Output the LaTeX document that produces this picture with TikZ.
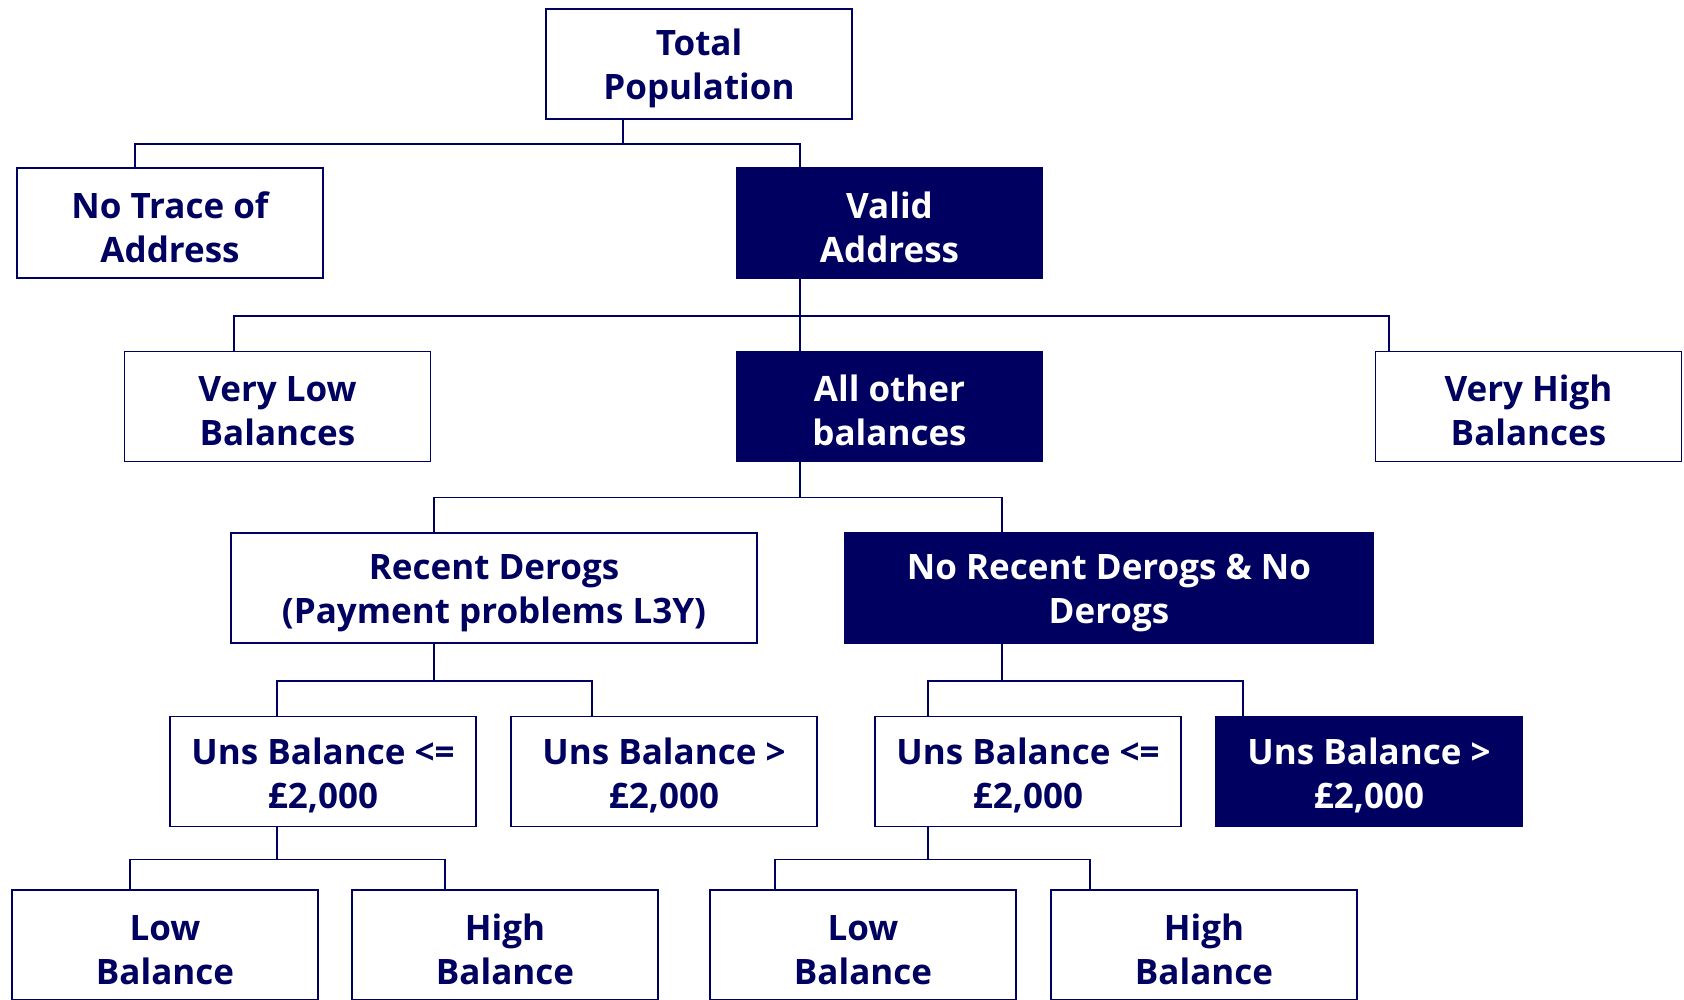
\documentclass[tikz,border=0pt]{standalone}
\usepackage{fontspec}
\setmainfont{Open Sans}
\usepackage{tikz}
\usetikzlibrary{positioning,calc}
\definecolor{navy}{HTML}{000060}

\begin{document}
\begin{tikzpicture}[
    x=1pt, y=-1pt,
    boxStyle/.style={rectangle, draw=navy, line width=1.8pt, fill=white, text=navy,
        minimum width=306pt, minimum height=110pt, align=center,
        font=\fontsize{35}{44}\selectfont\bfseries,
        execute at begin node={\rule{0pt}{79pt}}},
    darkBoxStyle/.style={boxStyle, fill=navy, text=white},
    linkStyle/.style={draw=navy, line width=1.8pt}
]
    \useasboundingbox (0,0) rectangle (1684,999);

    % Root
    \node[boxStyle] (total) at (699, 64) {Total\\Population};

    % Address check
    \node[boxStyle] (notrace) at (170, 223) {No Trace of\\Address};
    \node[darkBoxStyle] (valid) at (889.5, 223) {Valid\\Address};

    % Balance bands
    \node[boxStyle] (verylow) at (277.5, 406.5) {Very Low\\Balances};
    \node[darkBoxStyle] (allother) at (889.5, 406.5) {All other\\balances};
    \node[boxStyle] (veryhigh) at (1528.5, 406.5) {Very High\\Balances};

    % Derogs split
    \node[boxStyle, minimum width=526pt] (recent) at (494, 588) {Recent Derogs\\(Payment problems L3Y)};
    \node[darkBoxStyle, minimum width=528pt] (norecent) at (1109, 588) {No Recent Derogs \& No\\Derogs};

    % Unsecured balance split
    \node[boxStyle] (unsLow1) at (323, 771.5) {Uns Balance <=\\£2,000};
    \node[boxStyle] (unsHigh1) at (664, 771.5) {Uns Balance >\\£2,000};
    \node[boxStyle] (unsLow2) at (1028, 771.5) {Uns Balance <=\\£2,000};
    \node[darkBoxStyle] (unsHigh2) at (1369, 771.5) {Uns Balance >\\£2,000};

    % Leaves
    \node[boxStyle] (low1) at (165, 945) {Low\\Balance};
    \node[boxStyle] (high1) at (505, 945) {High\\Balance};
    \node[boxStyle] (low2) at (863, 945) {Low\\Balance};
    \node[boxStyle] (high2) at (1204, 945) {High\\Balance};

    % Connectors
    \draw[linkStyle] ([xshift=-76pt]total.south) -- ++(0,24) -| ([xshift=-35pt]notrace.north);
    \draw[linkStyle] ([xshift=-76pt]total.south) -- ++(0,24) -| ([xshift=-89.5pt]valid.north);

    \draw[linkStyle] ([xshift=-89.5pt]valid.south) -- ++(0,37) -| ([xshift=-43.5pt]verylow.north);
    \draw[linkStyle] ([xshift=-89.5pt]valid.south) -- ([xshift=-89.5pt]allother.north);
    \draw[linkStyle] ([xshift=-89.5pt]valid.south) -- ++(0,37) -| ([xshift=-139.5pt]veryhigh.north);

    \draw[linkStyle] ([xshift=-89.5pt]allother.south) -- ++(0,35) -| ([xshift=-60pt]recent.north);
    \draw[linkStyle] ([xshift=-89.5pt]allother.south) -- ++(0,35) -| ([xshift=-107pt]norecent.north);

    \draw[linkStyle] ([xshift=-60pt]recent.south) -- ++(0,37) -| ([xshift=-46pt]unsLow1.north);
    \draw[linkStyle] ([xshift=-60pt]recent.south) -- ++(0,37) -| ([xshift=-72pt]unsHigh1.north);
    \draw[linkStyle] ([xshift=-107pt]norecent.south) -- ++(0,37) -| ([xshift=-100pt]unsLow2.north);
    \draw[linkStyle] ([xshift=-107pt]norecent.south) -- ++(0,37) -| ([xshift=-126pt]unsHigh2.north);

    \draw[linkStyle] ([xshift=-46pt]unsLow1.south) -- ++(0,32) -| ([xshift=-35pt]low1.north);
    \draw[linkStyle] ([xshift=-46pt]unsLow1.south) -- ++(0,32) -| ([xshift=-60pt]high1.north);
    \draw[linkStyle] ([xshift=-100pt]unsLow2.south) -- ++(0,32) -| ([xshift=-88pt]low2.north);
    \draw[linkStyle] ([xshift=-100pt]unsLow2.south) -- ++(0,32) -| ([xshift=-114pt]high2.north);
\end{tikzpicture}
\end{document}
